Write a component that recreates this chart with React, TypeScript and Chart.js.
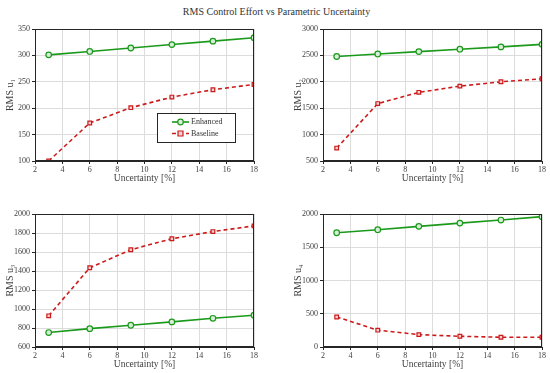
import React, { useEffect, useRef } from "react";
import { Chart, registerables } from "chart.js";
Chart.register(...registerables);

const uncertainty = [3, 6, 9, 12, 15, 18];
const seriesNames = ["Enhanced", "Baseline"];
const chartTitle = "RMS Control Effort vs Parametric Uncertainty";
const xLabel = "Uncertainty [%]";

const u1Enhanced = [301, 307.5, 314, 320.5, 327, 333.5];
const u1Baseline = [100, 172, 201, 221, 235, 245];
const u2Enhanced = [2479, 2527, 2572, 2617, 2661, 2709];
const u2Baseline = [745, 1587, 1800, 1918, 2000, 2057];
const u3Enhanced = [752, 793, 829, 864, 902, 935];
const u3Baseline = [928, 1434, 1624, 1740, 1815, 1875];
const u4Enhanced = [1718, 1764, 1814, 1863, 1909, 1960];
const u4Baseline = [452, 253, 186, 161, 147, 146];

const GREEN = "#1a991a";
const RED = "#cc1a1a";
const FONT = "'Liberation Serif', 'DejaVu Serif', serif";

const framePlugin = {
  id: "frame",
  afterDatasetsDraw(chart: any) {
    const { ctx, chartArea: a } = chart;
    ctx.save();
    ctx.strokeStyle = "#262626";
    ctx.lineWidth = 1;
    const l = Math.round(a.left) + 0.5;
    const t = Math.round(a.top) + 0.5;
    const r = Math.round(a.right) - 0.5;
    const b = Math.round(a.bottom) - 0.5;
    ctx.strokeRect(l, t, r - l, b - t);
    ctx.restore();
  },
};

const legendPlugin = {
  id: "boxLegend",
  afterDraw(chart: any) {
    const { ctx, chartArea: a } = chart;
    const w = 78;
    const h = 29;
    const x0 = a.right - 19 - w;
    const y0 = a.bottom - 19 - h;
    ctx.save();
    ctx.fillStyle = "#ffffff";
    ctx.fillRect(x0, y0, w, h);
    ctx.strokeStyle = "#262626";
    ctx.lineWidth = 1;
    ctx.strokeRect(Math.round(x0) + 0.5, Math.round(y0) + 0.5, w, h);
    chart.data.datasets.forEach((ds: any, i: number) => {
      const cy = y0 + 9 + i * 11.5;
      const lx0 = x0 + 15;
      const lx1 = x0 + 32;
      ctx.strokeStyle = ds.borderColor;
      ctx.lineWidth = ds.borderWidth;
      ctx.setLineDash(ds.borderDash || []);
      ctx.beginPath();
      ctx.moveTo(lx0, cy);
      ctx.lineTo(lx1, cy);
      ctx.stroke();
      ctx.setLineDash([]);
      const mx = (lx0 + lx1) / 2;
      ctx.fillStyle = ds.pointBackgroundColor;
      ctx.strokeStyle = ds.borderColor;
      ctx.lineWidth = 1.2;
      ctx.beginPath();
      if (ds.pointStyle === "rect") {
        ctx.rect(mx - 2.5, cy - 2.5, 5, 5);
      } else {
        ctx.arc(mx, cy, 2.8, 0, Math.PI * 2);
      }
      ctx.fill();
      ctx.stroke();
      ctx.fillStyle = "#333";
      ctx.font = `8px ${FONT}`;
      ctx.textBaseline = "middle";
      ctx.textAlign = "left";
      ctx.fillText(ds.label, lx1 + 2, cy);
    });
    ctx.restore();
  },
};

type PanelProps = {
  enh: number[];
  base: number[];
  yMin: number;
  yMax: number;
  step: number;
  yLabel: string;
  left: number;
  top: number;
  plotW: number;
  plotH: number;
  legend?: boolean;
};

const PAD_L = 35;
const PAD_T = 8;
const PAD_R = 8;
const PAD_B = 26;

function Panel(p: PanelProps) {
  const ref = useRef<HTMLCanvasElement>(null);
  const W = PAD_L + p.plotW + PAD_R;
  const H = PAD_T + p.plotH + PAD_B;
  useEffect(() => {
    const canvas = ref.current!;
    const plugins: any[] = [framePlugin];
    if (p.legend) plugins.push(legendPlugin);
    const chart = new Chart(canvas, {
      type: "line",
      data: {
        labels: uncertainty,
        datasets: [
          {
            label: seriesNames[0],
            data: uncertainty.map((x, i) => ({ x, y: p.enh[i] })),
            borderColor: GREEN,
            backgroundColor: GREEN,
            borderWidth: 1.6,
            pointStyle: "circle",
            pointRadius: 2.8,
            pointBorderWidth: 1.2,
            pointBackgroundColor: "#d8eed8",
            pointBorderColor: GREEN,
            tension: 0,
          } as any,
          {
            label: seriesNames[1],
            data: uncertainty.map((x, i) => ({ x, y: p.base[i] })),
            borderColor: RED,
            backgroundColor: RED,
            borderWidth: 1.6,
            borderDash: [4, 3],
            pointStyle: "rect",
            pointRadius: 2.6,
            pointBorderWidth: 1.2,
            pointBackgroundColor: "#f2d0d0",
            pointBorderColor: RED,
            tension: 0,
          } as any,
        ],
      },
      options: {
        animation: false,
        responsive: false,
        layout: { padding: { left: 0, top: PAD_T, right: PAD_R, bottom: 0 } },
        plugins: { legend: { display: false }, title: { display: false }, tooltip: { enabled: false } },
        scales: {
          x: {
            type: "linear",
            min: 2,
            max: 18,
            ticks: { stepSize: 2, font: { family: FONT, size: 8 }, color: "#404040", padding: 1, callback: (v: any) => String(v) },
            grid: { color: "#dcdcdc", tickLength: 3, tickColor: "#262626" },
            border: { color: "#262626" },
            title: { display: true, text: xLabel, font: { family: FONT, size: 9.5 }, color: "#404040", padding: { top: 0, bottom: 3 } },
            afterFit: (s: any) => { s.height = PAD_B; },
          },
          y: {
            min: p.yMin,
            max: p.yMax,
            ticks: { stepSize: p.step, font: { family: FONT, size: 8 }, color: "#404040", padding: 2, callback: (v: any) => String(v) },
            grid: { color: "#dcdcdc", tickLength: 3, tickColor: "#262626" },
            border: { color: "#262626" },
            title: { display: true, text: p.yLabel, font: { family: FONT, size: 10 }, color: "#404040", padding: { top: 4, bottom: 0 } },
            afterFit: (s: any) => { s.width = PAD_L; },
          },
        },
      } as any,
      plugins,
    });
    return () => chart.destroy();
  }, []);
  return (
    <canvas
      ref={ref}
      width={W}
      height={H}
      style={{ position: "absolute", left: p.left - PAD_L, top: p.top - PAD_T, width: W, height: H }}
    />
  );
}

export default function App() {
  return (
    <div style={{ position: "fixed", left: 0, top: 0, width: 550, height: 373, background: "#fff", overflow: "hidden" }}>
      <div
        style={{
          position: "absolute",
          left: 0,
          top: 5,
          width: 553,
          textAlign: "center",
          fontFamily: FONT,
          fontSize: 10,
          color: "#333",
          lineHeight: "14px",
        }}
      >
        {chartTitle}
      </div>
      <Panel enh={u1Enhanced} base={u1Baseline} yMin={100} yMax={350} step={50} yLabel="RMS u₁" left={35} top={29} plotW={219} plotH={132} legend />
      <Panel enh={u2Enhanced} base={u2Baseline} yMin={500} yMax={3000} step={500} yLabel="RMS u₂" left={323} top={29} plotW={219} plotH={132} />
      <Panel enh={u3Enhanced} base={u3Baseline} yMin={600} yMax={2000} step={200} yLabel="RMS u₃" left={35} top={214} plotW={219} plotH={133} />
      <Panel enh={u4Enhanced} base={u4Baseline} yMin={0} yMax={2000} step={500} yLabel="RMS u₄" left={323} top={214} plotW={219} plotH={133} />
    </div>
  );
}
